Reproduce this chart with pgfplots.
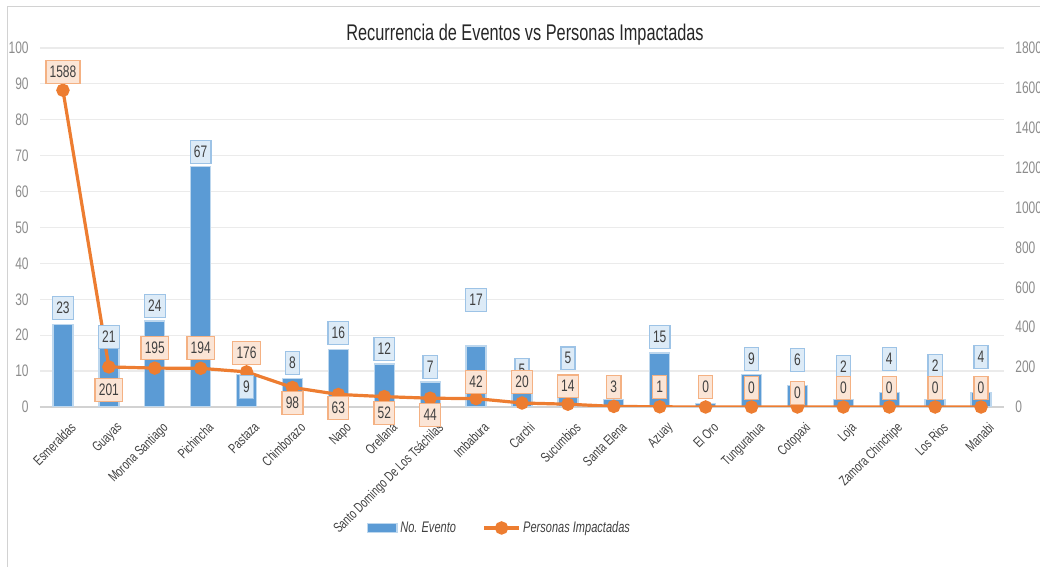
\documentclass[border=0pt]{standalone}
\usepackage{pgfplots}
\pgfplotsset{compat=1.18}
\usepackage{pgfplotstable}
\usepackage{fontspec}
\setmainfont{Liberation Sans}[FakeStretch=0.72]
\definecolor{barblue}{HTML}{5B9BD5}
\definecolor{baredge}{HTML}{BDD7EE}
\definecolor{lineor}{HTML}{ED7D31}
\definecolor{bluefill}{HTML}{DDEBF7}
\definecolor{bluedraw}{HTML}{9DC3E6}
\definecolor{orfill}{HTML}{FBE5D6}
\definecolor{ordraw}{HTML}{F4B183}
\definecolor{txt}{HTML}{404040}
\definecolor{ticktxt}{HTML}{8C8C8C}
\definecolor{gridc}{HTML}{EBEBEB}

\pgfplotstableread{
x ev pers bly oly
0 23 1588 27.6 93.3
1 21 201 19.5 4.7
2 24 195 28.1 16.4
3 67 194 71.0 16.4
4 9 176 5.6 15.0
5 8 98 12.3 1.1
6 16 63 20.6 -0.3
7 12 52 16.2 -1.7
8 7 44 11.1 -2.2
9 17 42 29.8 7.0
10 5 20 10.3 7.0
11 5 14 13.6 5.8
12 2 3 5.6 5.6
13 15 1 19.5 5.6
14 1 0 5.6 5.6
15 9 0 13.4 5.3
16 6 0 13.1 3.9
17 2 0 11.1 5.3
18 4 0 13.4 5.3
19 2 0 11.4 5.3
20 4 0 13.9 5.3
}\data

\begin{document}
\begin{tikzpicture}
\useasboundingbox (0,0) rectangle (780pt,425.25pt);
\draw[color=gray!35, line width=0.7pt] (800pt,420.75pt) -- (5.25pt,420.75pt) -- (5.25pt,-5pt);
\pgfplotsset{common/.style={
  scale only axis, width=723pt, height=269.25pt,
  at={(30pt,120pt)}, anchor=south west,
  xmin=-0.5, xmax=20.5,
  /pgf/number format/assume math mode=true,
  /pgf/number format/set thousands separator={},
  tick style={draw=none}, major tick length=0pt,
  yticklabel style={font=\fontsize{12.5}{14}\selectfont, text=ticktxt},
}}
\begin{axis}[common,
  ymin=0, ymax=100, ytick={0,10,...,100},
  ymajorgrids, grid style={draw=gridc, line width=0.9pt},
  axis x line*=bottom, axis y line*=left,
  x axis line style={draw=gray!35, line width=0.9pt, -},
  y axis line style={draw=none},
  yticklabel style={xshift=-5pt},
  xtick={0,...,20},
  xticklabels={Esmeraldas,Guayas,Morona Santiago,Pichincha,Pastaza,Chimborazo,Napo,Orellana,Santo Domingo De Los Tsáchilas,Imbabura,Carchi,Sucumbios,Santa Elena,Azuay,El Oro,Tungurahua,Cotopaxi,Loja,Zamora Chinchipe,Los Rios,Manabi},
  xticklabel style={rotate=45, anchor=north east, font=\fontsize{10.5}{12}\selectfont, text=txt, inner sep=1pt, yshift=-10pt, xshift=-3pt},
  legend style={at={(0.477,-0.337)}, anchor=center, draw=none, fill=none, legend columns=2,
    font=\itshape\fontsize{11.5}{13}\selectfont, text=txt,
    /tikz/every even column/.append style={column sep=18pt}},
  legend cell align=left,
]
\addplot[ybar, bar width=15pt, fill=barblue, draw=baredge, line width=1pt,
  legend image code/.code={\fill[barblue, draw=baredge] (0pt,-3.2pt) rectangle (22pt,3.2pt);}]
  table[x=x, y=ev]{\data};
\addlegendentry{No. Evento}
\addlegendimage{lineor, line width=2.4pt, mark=*, mark size=3.8pt,
  legend image code/.code={\draw[lineor, line width=2.4pt] (0pt,0pt) -- (26pt,0pt); \fill[lineor] (13pt,0pt) circle (3.8pt);}}
\addlegendentry{Personas Impactadas}
\end{axis}
\begin{axis}[common,
  ymin=0, ymax=1800, ytick={0,200,...,1800},
  axis x line=none, axis y line*=right,
  y axis line style={draw=none},
  yticklabel style={xshift=5pt, anchor=west},
]
\addplot[lineor, line width=2.4pt, mark=*, mark size=3.8pt, mark options={fill=lineor, draw=lineor}]
  table[x=x, y=pers]{\data};
\end{axis}
\begin{axis}[common, hide axis, ymin=0, ymax=100, clip=false]
\addplot[only marks, mark=*, mark size=0pt, nodes near coords, point meta=explicit symbolic,
  every node near coord/.append style={anchor=center, fill=bluefill, draw=bluedraw, line width=1pt,
    inner xsep=2.8pt, inner ysep=2.5pt, text=txt, font=\fontsize{12.5}{13}\selectfont, minimum height=17pt}]
  table[x=x, y=bly, meta=ev]{\data};
\addplot[only marks, mark=*, mark size=0pt, nodes near coords, point meta=explicit symbolic,
  every node near coord/.append style={anchor=center, fill=orfill, draw=ordraw, line width=1pt,
    inner xsep=2.8pt, inner ysep=2.5pt, text=txt, font=\fontsize{12.5}{13}\selectfont, minimum height=17pt}]
  table[x=x, y=oly, meta=pers]{\data};
\end{axis}
\node[font=\fontsize{17}{19}\selectfont, text=black!85] at (393.75pt,399pt) {Recurrencia de Eventos vs Personas Impactadas};
\end{tikzpicture}
\end{document}
